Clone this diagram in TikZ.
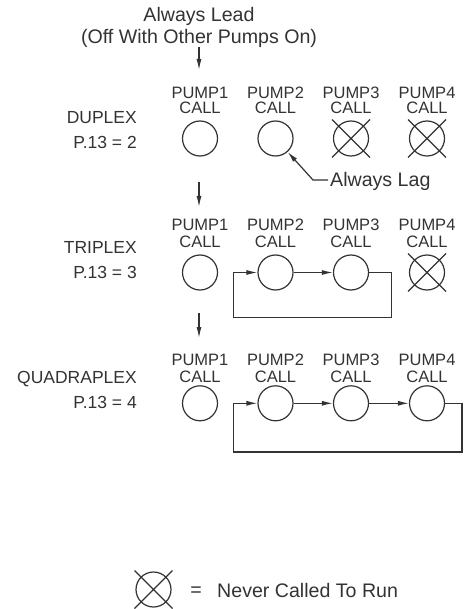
\documentclass[tikz,border=0pt]{standalone}
\usepackage{fontspec}
\setmainfont{Liberation Sans}
\usetikzlibrary{arrows.meta,calc}
\definecolor{ink}{HTML}{333333}
\begin{document}
\begin{tikzpicture}[x=1pt,y=-1pt,
  big/.style={font=\fontsize{19.6}{22}\selectfont, inner sep=0pt, text=ink},
  side/.style={font=\fontsize{17.5}{20}\selectfont, inner sep=0pt, text=ink, anchor=base east},
  lbl/.style={font=\fontsize{16.5}{18}\selectfont, inner sep=0pt, text=ink, anchor=base},
  pc/.style={circle, draw=ink, line width=1.2pt, minimum size=35pt, inner sep=0pt},
  conn/.style={draw=ink, line width=1.2pt},
  arr/.style={conn, -{Latex[length=11pt,width=5pt]}},
]
\useasboundingbox (0,0) rectangle (469,609);

% title
\node[big, anchor=base] (lead) at (199,22) {Always Lead};
\node[big, anchor=base] (off) at (199,43.7) {(Off With Other Pumps On)};
\coordinate (a1s) at (199,47);
\coordinate (a1e) at (199,70);
\draw[arr] (a1s) -- (a1e);

% row 1 : duplex
\foreach \i/\x in {1/200,2/275.5,3/351,4/427}{
  \node[lbl] (r1p\i) at (\x,98.2) {PUMP\i};
  \node[lbl] (r1c\i) at (\x,113.9) {CALL};
  \node[pc] (p1\i) at (\x,138.5) {};
}
\node[side] (dup) at (137,123.3) {DUPLEX};
\node[side] (dupn) at (137,148.3) {P.13 = 2};
\node[big, anchor=base west] (lag) at (330,187) {Always Lag};
\coordinate (lagend) at (328,180);
\coordinate (lagk) at (313,180);
\draw[arr] (lagend) -- (lagk) -- (p12);

\coordinate (a2s) at (199,182);
\coordinate (a2e) at (199,207);
\draw[arr] (a2s) -- (a2e);

% row 2 : triplex
\foreach \i/\x in {1/200,2/275.5,3/351,4/427}{
  \node[lbl] (r2p\i) at (\x,230.9) {PUMP\i};
  \node[lbl] (r2c\i) at (\x,247.6) {CALL};
  \node[pc] (p2\i) at (\x,272.5) {};
}
\node[side] (tri) at (137,253) {TRIPLEX};
\node[side] (trin) at (137,278) {P.13 = 3};
\draw[arr] (p22) -- (p23);
\coordinate (r2) at (391.7,317.7);
\coordinate (l2) at (233.3,317.7);
\draw[arr] (p23.east) -| (r2) -- (l2) |- (p22.west);

\coordinate (a3s) at (199,313);
\coordinate (a3e) at (199,338);
\draw[arr] (a3s) -- (a3e);

% row 3 : quadraplex
\foreach \i/\x in {1/200,2/275.5,3/351,4/427}{
  \node[lbl] (r3p\i) at (\x,365.9) {PUMP\i};
  \node[lbl] (r3c\i) at (\x,382.6) {CALL};
  \node[pc] (p3\i) at (\x,403.3) {};
}
\node[side] (quad) at (137,383.3) {QUADRAPLEX};
\node[side] (quadn) at (137,408) {P.13 = 4};
\draw[arr] (p32) -- (p33);
\draw[arr] (p33) -- (p34);
\coordinate (r3) at (462,452);
\coordinate (l3) at (233.3,452);
\draw[arr] (p34.east) -| (r3) -- (l3) |- (p32.west);

% legend
\node[pc] (lg) at (153.5,589.5) {};
\node[big, anchor=base] (eq) at (196,596) {=};
\node[big, anchor=base west] (never) at (217,597) {Never Called To Run};

% crosses
\foreach \n in {p13,p14,p24,lg}{
  \draw[conn] ([shift={(-19,-19)}]\n.center) -- ([shift={(19,19)}]\n.center)
              ([shift={(19,-19)}]\n.center) -- ([shift={(-19,19)}]\n.center);
}
\end{tikzpicture}
\end{document}
